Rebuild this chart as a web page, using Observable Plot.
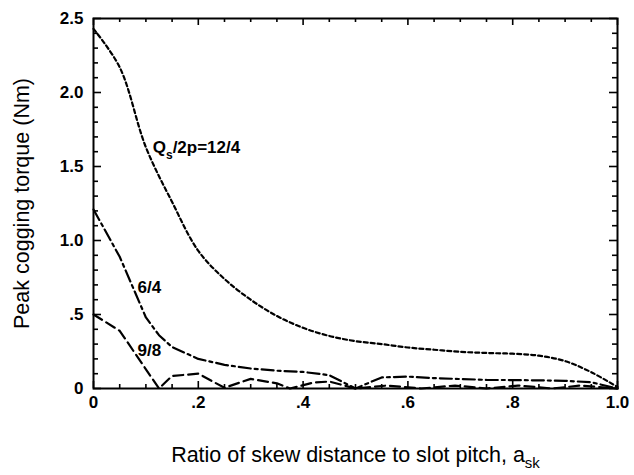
<!DOCTYPE html>
<html><head><meta charset="utf-8">
<script src="https://cdn.jsdelivr.net/npm/d3@7"></script>
<script src="https://cdn.jsdelivr.net/npm/@observablehq/plot@0.6"></script>
<style>body{margin:0;background:#fff} svg{display:block}</style>
</head><body><div id="chart"></div>
<script>
// Series: Qs/2p = 12/4
const skew12_4 = [0, 0.05, 0.1, 0.15, 0.2, 0.25, 0.3, 0.35, 0.4, 0.45, 0.5, 0.55, 0.6, 0.65, 0.7, 0.75, 0.8, 0.85, 0.9, 0.95, 1.0];
const torque12_4 = [2.43, 2.17, 1.63, 1.26, 0.93, 0.74, 0.6, 0.49, 0.41, 0.355, 0.32, 0.3, 0.277, 0.262, 0.248, 0.24, 0.235, 0.222, 0.185, 0.11, 0.01];
// Series: 6/4
const skew6_4 = [0, 0.05, 0.1, 0.125, 0.15, 0.2, 0.25, 0.3, 0.35, 0.4, 0.45, 0.5, 0.55, 0.6, 0.65, 0.7, 0.75, 0.8, 0.85, 0.9, 0.95, 1.0];
const torque6_4 = [1.21, 0.89, 0.48, 0.36, 0.28, 0.2, 0.16, 0.135, 0.12, 0.112, 0.09, 0.0, 0.075, 0.08, 0.07, 0.064, 0.058, 0.057, 0.055, 0.052, 0.042, 0.0];
// Series: 9/8
const skew9_8 = [0, 0.05, 0.125, 0.15, 0.2, 0.25, 0.3, 0.35, 0.375, 0.42, 0.45, 0.5, 0.56, 0.625, 0.69, 0.75, 0.81, 0.875, 0.93, 1.0];
const torque9_8 = [0.5, 0.39, 0.0, 0.085, 0.1, 0.005, 0.065, 0.035, 0.0, 0.04, 0.047, 0.0, 0.02, 0.0, 0.02, 0.0, 0.02, 0.0, 0.02, 0.0];

// Ticks
const xMajor = [0, 0.2, 0.4, 0.6, 0.8, 1.0];
const xLabels = ["0", ".2", ".4", ".6", ".8", "1.0"];
const xMinor = [0.05, 0.1, 0.15, 0.25, 0.3, 0.35, 0.45, 0.5, 0.55, 0.65, 0.7, 0.75, 0.85, 0.9, 0.95];
const yMajor = [0, 0.5, 1.0, 1.5, 2.0, 2.5];
const yLabels = ["0", ".5", "1.0", "1.5", "2.0", "2.5"];
const yMinor = [0.1, 0.2, 0.3, 0.4, 0.6, 0.7, 0.8, 0.9, 1.1, 1.2, 1.3, 1.4, 1.6, 1.7, 1.8, 1.9, 2.1, 2.2, 2.3, 2.4];

// Annotations
const annX = [0.113, 0.084, 0.084];
const annY = [1.63, 0.68, 0.257];
const annText = ["Qs/2p=12/4", "6/4", "9/8"];

const xTitle = "Ratio of skew distance to slot pitch, a";
const xTitleSub = "sk";
const yTitle = "Peak cogging torque (Nm)";

const W = 634, H = 475, mL = 93, mR = 17, mT = 18, mB = 87;
const fw = W - mL - mR, fh = H - mT - mB;
const font = "'Liberation Sans', Arial, Helvetica, sans-serif";

const toRows = (xs, ys) => xs.map((x, i) => ({x, y: ys[i]}));

const plot = Plot.plot({
  width: W, height: H,
  marginLeft: mL, marginRight: mR, marginTop: mT, marginBottom: mB,
  style: {fontFamily: font, background: "#fff", color: "#000"},
  x: {domain: [0, 1], axis: null},
  y: {domain: [0, 2.5], axis: null},
  marks: [
    Plot.line(toRows(skew12_4, torque12_4), {x: "x", y: "y", stroke: "#000", strokeWidth: 2.2, strokeDasharray: "4,3", curve: "catmull-rom"}),
    Plot.line(toRows(skew6_4, torque6_4), {x: "x", y: "y", stroke: "#000", strokeWidth: 2.2, strokeDasharray: "12,4,3,4", curve: "linear"}),
    Plot.line(toRows(skew9_8, torque9_8), {x: "x", y: "y", stroke: "#000", strokeWidth: 2.2, strokeDasharray: "10,5", curve: "linear"}),
    // ticks bottom/top
    Plot.tickX(xMinor, {x: d => d, insetTop: fh - 4, stroke: "#000", strokeWidth: 1.6}),
    Plot.tickX(xMajor, {x: d => d, insetTop: fh - 7, stroke: "#000", strokeWidth: 1.6}),
    Plot.tickX(xMinor, {x: d => d, insetBottom: fh - 4, stroke: "#000", strokeWidth: 1.6}),
    Plot.tickX(xMajor, {x: d => d, insetBottom: fh - 7, stroke: "#000", strokeWidth: 1.6}),
    // ticks left/right
    Plot.tickY(yMinor, {y: d => d, insetRight: fw - 5, stroke: "#000", strokeWidth: 1.6}),
    Plot.tickY(yMajor, {y: d => d, insetRight: fw - 8, stroke: "#000", strokeWidth: 1.6}),
    Plot.tickY(yMinor, {y: d => d, insetLeft: fw - 5, stroke: "#000", strokeWidth: 1.6}),
    Plot.tickY(yMajor, {y: d => d, insetLeft: fw - 8, stroke: "#000", strokeWidth: 1.6}),
    Plot.frame({stroke: "#000", strokeWidth: 2}),
    // tick labels
    Plot.text(xMajor, {x: d => d, text: (d, i) => xLabels[i], frameAnchor: "bottom", dy: 19, fontSize: 17, fontWeight: "bold", fill: "#000"}),
    Plot.text(yMajor, {y: d => d, text: (d, i) => yLabels[i], frameAnchor: "left", dx: -10, textAnchor: "end", fontSize: 17, fontWeight: "bold", fill: "#000"}),
    // annotations
    Plot.text(annText, {x: (d, i) => annX[i], y: (d, i) => annY[i], text: d => d, textAnchor: "start", fontSize: 17, fontWeight: "bold", fill: "#000", className: "ann"}),
    // titles
    Plot.text([yTitle], {text: d => d, frameAnchor: "left", dx: -71, rotate: -90, textAnchor: "middle", fontSize: 21.5, fill: "#000"}),
    Plot.text([xTitle], {text: d => d, frameAnchor: "bottom", dy: 73, textAnchor: "middle", fontSize: 21.5, fill: "#000", className: "xtitle"})
  ]
});
document.getElementById("chart").appendChild(plot);

// subscripts
const svg = d3.select(plot);
svg.selectAll(".ann text").each(function () {
  const t = d3.select(this);
  const s = t.text();
  if (s.startsWith("Qs")) {
    t.text("");
    t.append("tspan").text("Q");
    t.append("tspan").attr("dy", 6).attr("font-size", 12).text("s");
    t.append("tspan").attr("dy", -6).text(s.slice(2));
  }
});
svg.selectAll(".xtitle text").each(function () {
  const t = d3.select(this);
  t.append("tspan").attr("dy", 6).attr("font-size", 15).text(xTitleSub);
});
</script>
</body></html>
